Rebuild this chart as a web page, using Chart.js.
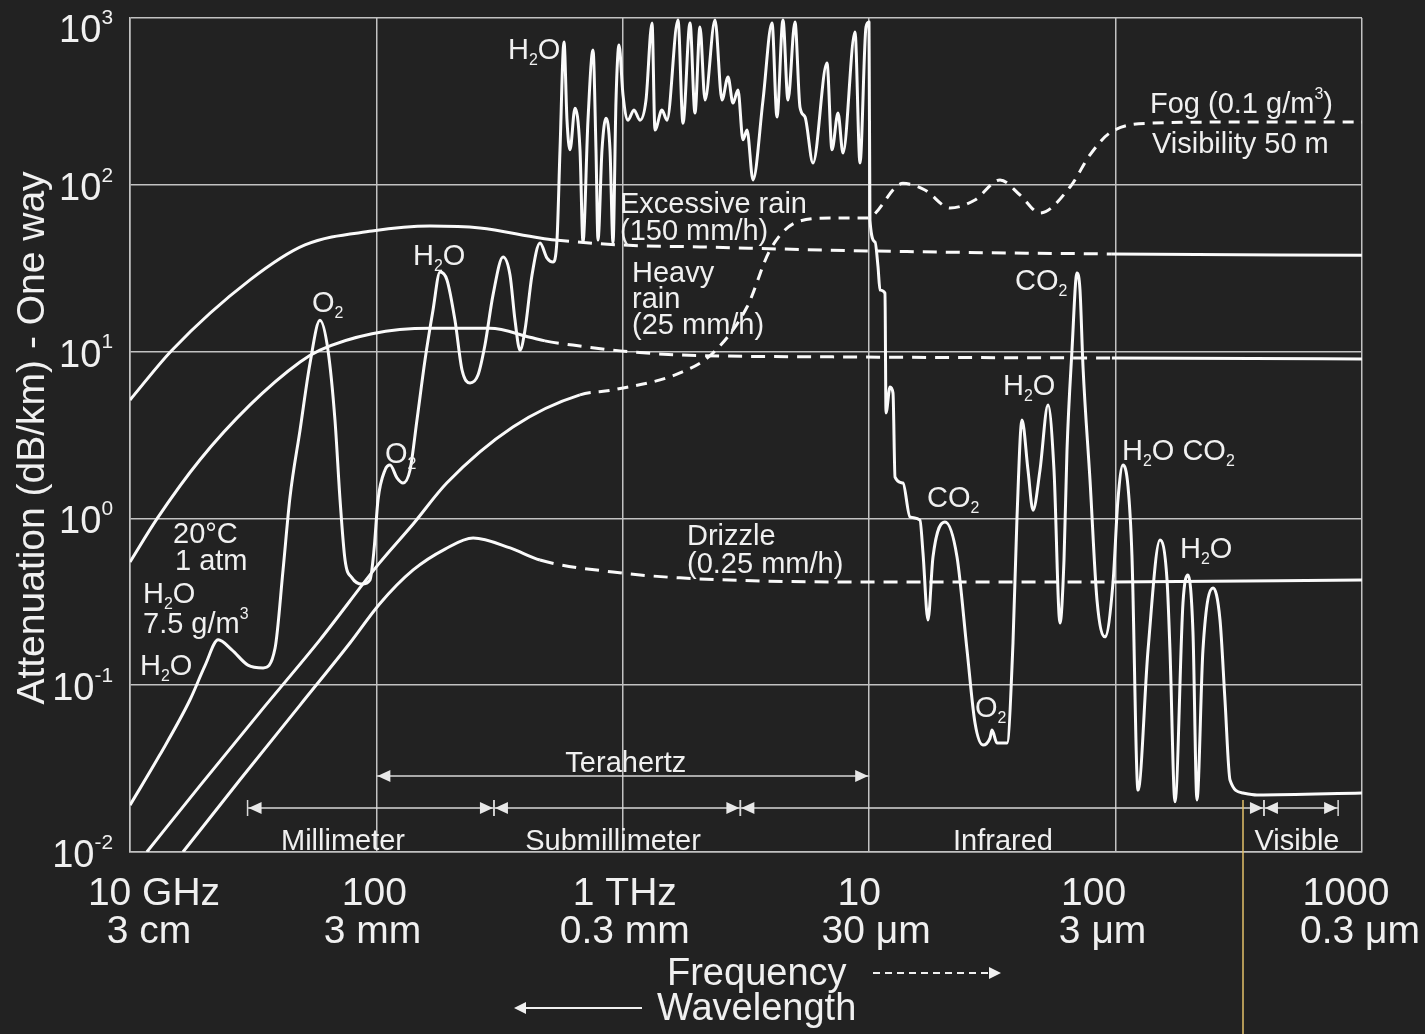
<!DOCTYPE html>
<html>
<head>
<meta charset="utf-8">
<script src="https://cdn.jsdelivr.net/npm/chart.js@4.4.0/dist/chart.umd.min.js"></script>
<style>
  html,body{margin:0;padding:0;background:#222;}
  #wrap{width:1425px;height:1034px;position:relative;}
</style>
</head>
<body>
<div id="wrap"><canvas id="chart"></canvas></div>
<script>
// --- Data: frequency in GHz, attenuation in dB/km (one way) ---
const xTicks = [10, 100, 1000, 10000, 100000, 1000000];
const xTickFreq = ['10 GHz', '100', '1 THz', '10', '100', '1000'];
const xTickWave = ['3 cm', '3 mm', '0.3 mm', '30 μm', '3 μm', '0.3 μm'];
const yTicks = [0.01, 0.1, 1, 10, 100, 1000];
const yTickExp = ['-2', '-1', '0', '1', '2', '3'];

const excessRain = [[10,5.13],[14.8,10.2],[30.7,26.9],[51.3,43.6],[96,52.8],[165,56.6],[263,55.1],[461,48.0],
  [531,46.7],[975,43.6],[2060,42.4],[10070,40.1],[96600,38.5],[1000000,37.8]];

const heavyRain = [[10,0.548],[12.9,1.00],[19.2,2.24],[30.7,4.79],[49.0,8.66],[59.0,10.2],[96,12.8],[165,13.8],
  [289,13.8],[420,12.2],[483,11.6],[670,10.8],[975,10.1],[1706,9.55],[9180,9.28],[96600,9.15],[1000000,9.03]];

const drizzle = [[16.4,0.01],[27.9,0.027],[49.0,0.076],[78.1,0.179],[103,0.307],[141,0.491],[190,0.655],[247,0.763],
  [349,0.665],[461,0.563],[912,0.477],[1706,0.440],[8130,0.416],[96600,0.416],[1000000,0.428]];

const fog = [[11.7,0.01],[19.2,0.0249],[33.7,0.069],[59.0,0.187],[103,0.541],[141,0.926],[193,1.63],[358,3.53],
  [670,5.50],[912,5.89],[1706,7.45],[2323,9.81],[3192,18.5],[3957,40.6],[5093,59.8],[6934,63.2],[9796,63.2],
  [13710,102],[16830,93.1],[21280,72.6],[26870,81.1],[33960,107],[40930,86.9],[49320,67.8],[65310,97.0],
  [78700,151],[94860,205],[138000,234],[351000,238],[1000000,238]];

// clear air, 20°C, 1 atm, 7.5 g/m3 water vapour
const gas = [
  [10,0.0191],[13.2,0.0381],[17.5,0.0815],[20.2,0.132],[22.8,0.187],[25.9,0.163],[30.1,0.132],[34.7,0.127],
  [38.8,0.167],[41.8,0.491],[44.6,1.34],[49.0,3.39],[53.8,8.55],[59.0,15.4],[63.6,10.2],[67.9,3.89],
  [71.2,1.29],[74.6,0.563],[79.6,0.440],[87.4,0.404],[94.2,0.428],[97.8,0.647],[101.5,1.29],[108.4,1.95],
  [113.6,2.09],[121.2,1.75],[128.2,1.63],[136.9,1.95],[146.1,3.89],[157.5,8.91],[169.7,17.7],[181.2,30.0],
  [193.4,26.9],[208.4,15.4],[222.6,7.76],[239.9,6.49],[258.4,7.24],[275.9,11.0],[297.3,21.8],[326.5,36.9],
  [348.5,28.8],[365.2,15.4],[382.6,10.2],[401,13.5],[428.1,28.8],[461.3,44.8],[492.6,36.4],[520.9,34.5],
  [540.7,46.7],[556.1,162],[577.3,718],[593.6,244],[610.5,162],[639.7,288],[670.3,162],[689.3,45.4],
  [722.3,244],[756.8,643],[778.4,162],[793.1,46.7],[823.3,162],[855,251],[887.3,162],[912.6,44.8],
  [938.5,322],[965.2,689],[1002,345],[1050,244],[1110,281],[1174,244],[1242,322],[1314,934],
  [1351,213],[1442,281],[1511,244],[1675,972],[1755,234],[1874,934],[1963,269],[2057,883],
  [2156,322],[2367,972],[2527,322],[2673,443],[2800,309],[2934,370],[3074,186],[3192,213],
  [3376,107],[3707,322],[4032,934],[4224,255],[4467,972],[4681,322],[4997,946],[5237,292],
  [5488,255],[5914,135],[6741,537],[7063,162],[7470,269],[7828,155],[8758,824],[9175,135],
  [9705,883],[9981,946],[10070,61.5],[10560,45.4],[10860,32.2],[11060,23.4],[11590,22.4],[11700,4.29],
  [12150,6.14],[12490,5.65],[12730,1.77],[13710,1.63],[14640,1.02],[16070,0.977],[16530,0.621],[17320,0.246],
  [18150,0.587],[20300,0.951],[22720,0.587],[24940,0.163],[26880,0.0593],[28960,0.0438],[30920,0.0482],[31510,0.0538],
  [33010,0.0450],[36250,0.0450],[38330,0.179],[39800,1.02],[41700,3.89],[44100,1.95],[46210,1.12],[49340,1.95],
  [53170,4.79],[56230,1.95],[59470,0.236],[61740,0.563],[63500,2.57],[66530,10.2],[69700,29.6],[71700,23.4],
  [73750,8.09],[78720,1.70],[84040,0.324],[90560,0.195],[97590,0.410],[102200,1.29],[107100,2.09],[112300,1.55],
  [116500,0.60],[123300,0.0235],[135400,0.163],[151400,0.741],[161700,0.428],[166200,0.163],[174200,0.0200],[187700,0.311],
  [196700,0.458],[206100,0.206],[213900,0.0205],[226200,0.163],[248500,0.383],[265300,0.246],[277900,0.0815],[291300,0.0270],
  [328900,0.0226],[374800,0.0220],[1000000,0.0226]];

// spectral bands (GHz)
const bandNames = ['Millimeter', 'Submillimeter', 'Infrared', 'Visible'];
const bandStart = [30, 300, 3000, 400000];
const bandEnd = [300, 3000, 400000, 800000];
const thzBand = [100, 10000];

// --- drawing helpers ---
const FONT = '"Liberation Sans", Arial, Helvetica, sans-serif';
const INK = '#f0f0f0';

function richParts(str){
  const parts = [];
  let i = 0;
  while(i < str.length){
    const c = str[i];
    if(c === '_' || c === '^'){
      let t;
      if(str[i+1] === '{'){ const j = str.indexOf('}', i); t = str.slice(i+2, j); i = j+1; }
      else { t = str[i+1]; i += 2; }
      parts.push({t, mode:c});
    } else {
      let j = i;
      while(j < str.length && str[j] !== '_' && str[j] !== '^') j++;
      parts.push({t:str.slice(i, j), mode:''});
      i = j;
    }
  }
  return parts;
}

function drawRich(ctx, str, x, y, size, align){
  const parts = richParts(str);
  let w = 0;
  parts.forEach(p=>{
    ctx.font = (p.mode ? size*0.55 : size) + 'px ' + FONT;
    p.w = ctx.measureText(p.t).width;
    w += p.w;
  });
  let cx = align === 'right' ? x - w : align === 'center' ? x - w/2 : x;
  ctx.textAlign = 'left';
  parts.forEach(p=>{
    ctx.font = (p.mode ? size*0.55 : size) + 'px ' + FONT;
    const dy = p.mode === '_' ? size*0.22 : p.mode === '^' ? -size*0.48 : 0;
    ctx.fillText(p.t, cx, y + dy);
    cx += p.w;
  });
}

function arrowHead(ctx, x, y, dir, len, half){
  ctx.beginPath();
  ctx.moveTo(x, y);
  ctx.lineTo(x - dir*len, y - half);
  ctx.lineTo(x - dir*len, y + half);
  ctx.closePath();
  ctx.fill();
}

function dashBetween(lo, hi, pattern){
  return c => (c.p0.parsed.x >= lo && c.p1.parsed.x <= hi) ? pattern : undefined;
}

// text labels placed on the figure
const notes = [
  ['H_2O', 508, 59], ['Excessive rain', 620, 213], ['(150 mm/h)', 620, 240],
  ['Heavy', 632, 282], ['rain', 632, 308], ['(25 mm/h)', 632, 334],
  ['Fog (0.1 g/m^3)', 1150, 113], ['Visibility 50 m', 1152, 153],
  ['H_2O', 413, 265], ['O_2', 312, 312], ['CO_2', 1015, 290], ['H_2O', 1003, 395],
  ['O_2', 385, 463], ['CO_2', 927, 507], ['H_2O CO_2', 1122, 460], ['H_2O', 1180, 558],
  ['Drizzle', 687, 545], ['(0.25 mm/h)', 687, 573],
  ['20°C', 173, 543], ['1 atm', 175, 570], ['H_2O', 143, 603], ['7.5 g/m^3', 143, 633],
  ['H_2O', 140, 675], ['O_2', 975, 717]
];

const decor = {
  id: 'decor',
  beforeDraw(chart){
    const ctx = chart.ctx;
    ctx.save();
    ctx.fillStyle = '#222';
    ctx.fillRect(0, 0, chart.width, chart.height);
    ctx.restore();
  },
  afterDraw(chart){
    const ctx = chart.ctx;
    const xs = chart.scales.x, ys = chart.scales.y;
    const area = chart.chartArea;
    ctx.save();
    ctx.fillStyle = INK;
    ctx.textBaseline = 'alphabetic';

    // y tick labels 10^n
    yTicks.forEach((v, i)=>{
      const py = Math.max(ys.getPixelForValue(v) + 15, 42);
      drawRich(ctx, '10^{' + yTickExp[i] + '}', 113, py, 38, 'right');
    });
    // y title
    ctx.save();
    ctx.translate(44, 438);
    ctx.rotate(-Math.PI/2);
    ctx.font = '39px ' + FONT;
    ctx.textAlign = 'center';
    ctx.fillText('Attenuation (dB/km) - One way', 0, 0);
    ctx.restore();

    // x tick labels, two rows
    const shift1 = [24, -2, 2, -10, -22, -16];
    const shift2 = [19, -4, 2, 7, -13, -2];
    ctx.font = '39px ' + FONT;
    ctx.textAlign = 'center';
    xTicks.forEach((v, i)=>{
      const px = xs.getPixelForValue(v);
      ctx.fillText(xTickFreq[i], px + shift1[i], area.bottom + 53);
      ctx.fillText(xTickWave[i], px + shift2[i], area.bottom + 91);
    });

    // Frequency / Wavelength
    ctx.textAlign = 'left';
    ctx.font = '38px ' + FONT;
    ctx.fillText('Frequency', 667, 985);
    ctx.fillText('Wavelength', 657, 1020);
    ctx.strokeStyle = INK;
    ctx.lineWidth = 2;
    ctx.setLineDash([7, 5]);
    ctx.beginPath(); ctx.moveTo(873, 973); ctx.lineTo(990, 973); ctx.stroke();
    ctx.setLineDash([]);
    arrowHead(ctx, 1001, 973, 1, 12, 6);
    ctx.beginPath(); ctx.moveTo(642, 1008); ctx.lineTo(525, 1008); ctx.stroke();
    arrowHead(ctx, 514, 1008, -1, 12, 6);

    // band arrows
    ctx.strokeStyle = '#d8d8d8';
    ctx.fillStyle = '#e8e8e8';
    ctx.lineWidth = 1.5;
    const yT = area.bottom - 76, yB = area.bottom - 44;
    const t0 = xs.getPixelForValue(thzBand[0]), t1 = xs.getPixelForValue(thzBand[1]);
    ctx.beginPath(); ctx.moveTo(t0, yT); ctx.lineTo(t1, yT); ctx.stroke();
    arrowHead(ctx, t0 + 1, yT, -1, 13, 6);
    arrowHead(ctx, t1 - 1, yT, 1, 13, 6);
    const labelX = [343, 613, 1003, 1297];
    bandNames.forEach((name, i)=>{
      const a = xs.getPixelForValue(bandStart[i]), b = xs.getPixelForValue(bandEnd[i]);
      ctx.beginPath(); ctx.moveTo(a, yB); ctx.lineTo(b, yB); ctx.stroke();
      ctx.beginPath(); ctx.moveTo(a, yB - 8); ctx.lineTo(a, yB + 8);
      ctx.moveTo(b, yB - 8); ctx.lineTo(b, yB + 8); ctx.stroke();
      arrowHead(ctx, a + 1, yB, -1, 13, 6);
      arrowHead(ctx, b - 1, yB, 1, 13, 6);
      ctx.fillStyle = INK;
      drawRich(ctx, name, labelX[i], area.bottom - 2, 29, 'center');
      ctx.fillStyle = '#e8e8e8';
    });
    ctx.fillStyle = INK;
    drawRich(ctx, 'Terahertz', (t0 + t1)/2 + 3, yT - 4, 29, 'center');

    // annotations
    notes.forEach(n=> drawRich(ctx, n[0], n[1], n[2], 29, 'left'));

    // thin yellow marker line
    ctx.strokeStyle = '#e3c06a';
    ctx.lineWidth = 1.5;
    ctx.beginPath(); ctx.moveTo(1243, 800); ctx.lineTo(1243, 1034); ctx.stroke();
    ctx.restore();
  }
};

const toXY = arr => arr.map(p=>({x:p[0], y:p[1]}));
const lineStyle = {
  borderColor: '#fafafa', borderWidth: 3, pointRadius: 0, fill: false,
  cubicInterpolationMode: 'monotone', borderCapStyle: 'butt', borderJoinStyle: 'round'
};

const gridStyle = {color: '#c2c2c2', lineWidth: 1.5, drawTicks: false};

new Chart(document.getElementById('chart'), {
  type: 'line',
  data: {
    datasets: [
      Object.assign({label:'Excessive rain', data: toXY(excessRain),
        segment: {borderDash: dashBetween(531, 96600, [14, 9])}}, lineStyle),
      Object.assign({label:'Heavy rain', data: toXY(heavyRain),
        segment: {borderDash: dashBetween(483, 96600, [14, 9])}}, lineStyle),
      Object.assign({label:'Drizzle', data: toXY(drizzle),
        segment: {borderDash: dashBetween(461, 96600, [14, 9])}}, lineStyle),
      Object.assign({label:'Fog', data: toXY(fog),
        segment: {borderDash: dashBetween(670, 1000000, [11, 8])}}, lineStyle),
      Object.assign({label:'Clear air', data: toXY(gas)}, lineStyle)
    ]
  },
  options: {
    responsive: true,
    maintainAspectRatio: false,
    animation: false,
    layout: {padding: {left: 130, right: 63, top: 18, bottom: 182}},
    plugins: {legend: {display: false}, tooltip: {enabled: false}},
    scales: {
      x: {
        type: 'logarithmic', min: 10, max: 1000000,
        afterBuildTicks: s => { s.ticks = xTicks.map(v=>({value: v})); },
        ticks: {display: false},
        grid: gridStyle,
        border: {color: '#c2c2c2', width: 1.5}
      },
      y: {
        type: 'logarithmic', min: 0.01, max: 1000,
        afterBuildTicks: s => { s.ticks = yTicks.map(v=>({value: v})); },
        ticks: {display: false},
        grid: gridStyle,
        border: {color: '#c2c2c2', width: 1.5}
      }
    }
  },
  plugins: [decor]
});
</script>
</body>
</html>
